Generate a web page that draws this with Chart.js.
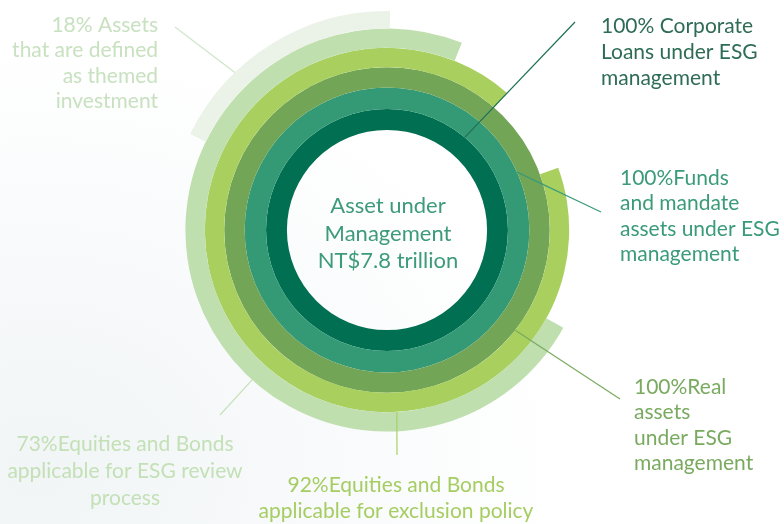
<!DOCTYPE html>
<html>
<head>
<meta charset="utf-8">
<title>Asset under Management</title>
<script src="https://cdn.jsdelivr.net/npm/chart.js@4.4.1/dist/chart.umd.min.js"></script>
<style>
  html, body { margin: 0; padding: 0; }
  body {
    width: 784px; height: 524px; overflow: hidden;
    background: radial-gradient(ellipse 520px 420px at 40px 470px, #f1f5f6 0%, #f7f9fa 45%, #ffffff 100%);
  }
  #ringChart { display: block; }
</style>
</head>
<body>
<canvas id="ringChart" width="784" height="524"></canvas>
<script>
// rings, outermost first
const ringNames = [
  "Assets that are defined as themed investment",
  "Equities and Bonds applicable for ESG review process",
  "Equities and Bonds applicable for exclusion policy",
  "Real assets under ESG management",
  "Funds and mandate assets under ESG management",
  "Corporate Loans under ESG management"
];
const ringValues = [18, 73, 92, 100, 100, 100];
const ringColors = ["#ebf3e9", "#bfdfae", "#a9d05e", "#72a556", "#349a76", "#016f51"];
const ringStart = [-64, 119, 70, 0, 0, 0];       // degrees, clockwise from 12 o'clock
const ringWeights = [17.5, 19.5, 19.5, 20.5, 21.5, 21];

const centerLines = ["Asset under", "Management", "NT$7.8 trillion"];

// callout text + leader lines ({v} gets the ring's value)
const callouts = [
  { ring: 0, angle: 316, edge: "outer", end: [175, 27], lineColor: "#cfe5c8",
    color: "#c8e1c0", align: "right", x: 158, y: 32, lh: 25.3,
    lines: ["{v}% Assets", "that are defined", "as themed", "investment"] },
  { ring: 1, angle: 222, edge: "outer", end: [220, 415], lineColor: "#c6e1b8",
    color: "#c3e0b6", align: "center", x: 125, y: 451, lh: 27,
    lines: ["{v}%Equities and Bonds", "applicable for ESG review", "process"] },
  { ring: 2, angle: 176.9, edge: "outer", end: [397, 455], lineColor: "#a9cf66",
    color: "#a5cd62", align: "center", x: 396, y: 492, lh: 26,
    lines: ["{v}%Equities and Bonds", "applicable for exclusion policy"] },
  { ring: 3, angle: 128, edge: "outer", end: [620, 399], lineColor: "#79aa5e",
    color: "#79aa5f", align: "left", x: 634, y: 394, lh: 25.3,
    lines: ["{v}%Real", "assets", "under ESG", "management"] },
  { ring: 4, angle: 66, edge: "outer", end: [601, 212], lineColor: "#3a9c7a",
    color: "#3a9b79", align: "left", x: 620, y: 185, lh: 25.3,
    lines: ["{v}%Funds", "and mandate", "assets under ESG", "management"] },
  { ring: 5, angle: 40, edge: "outer", end: [575, 22], lineColor: "#1e7057",
    color: "#2f6c56", align: "left", x: 601, y: 33, lh: 26,
    lines: ["{v}% Corporate", "Loans under ESG", "management"] }
];

const calloutPlugin = {
  id: "callouts",
  afterDatasetsDraw(chart) {
    const ctx = chart.ctx;
    ctx.save();
    callouts.forEach(c => {
      const arc = chart.getDatasetMeta(c.ring).data[0];
      const a = (c.angle - 90) * Math.PI / 180;
      const r = c.edge === "mid" ? (arc.innerRadius + arc.outerRadius) / 2 : arc.outerRadius;
      ctx.strokeStyle = c.lineColor;
      ctx.lineWidth = 1.2;
      ctx.beginPath();
      ctx.moveTo(arc.x + Math.cos(a) * r, arc.y + Math.sin(a) * r);
      ctx.lineTo(c.end[0], c.end[1]);
      ctx.stroke();

      ctx.fillStyle = c.color;
      ctx.font = "21px Lato";
      ctx.textAlign = c.align;
      ctx.textBaseline = "alphabetic";
      c.lines.forEach((t, i) => ctx.fillText(t.replace("{v}", ringValues[c.ring]), c.x, c.y + i * c.lh));
    });

    // centre label
    const hub = chart.getDatasetMeta(0).data[0];
    ctx.fillStyle = "#3d9b7b";
    ctx.font = "22px Lato";
    ctx.textAlign = "center";
    centerLines.forEach((t, i) => ctx.fillText(t, hub.x + 1, 213 + i * 27.5));
    ctx.restore();
  }
};

new Chart(document.getElementById("ringChart"), {
  type: "doughnut",
  data: {
    labels: ["share", "rest"],
    datasets: ringValues.map((v, i) => ({
      label: ringNames[i],
      data: [v, 100 - v],
      backgroundColor: [ringColors[i], "rgba(0,0,0,0)"],
      borderWidth: 0,
      rotation: ringStart[i],
      circumference: 360,
      weight: ringWeights[i]
    }))
  },
  options: {
    responsive: false,
    animation: false,
    events: [],
    devicePixelRatio: 1,
    cutout: "45.7%",
    layout: { padding: { left: 168, top: 11, right: 178, bottom: 75 } },
    plugins: { legend: { display: false }, tooltip: { enabled: false } }
  },
  plugins: [calloutPlugin]
});
</script>
</body>
</html>
